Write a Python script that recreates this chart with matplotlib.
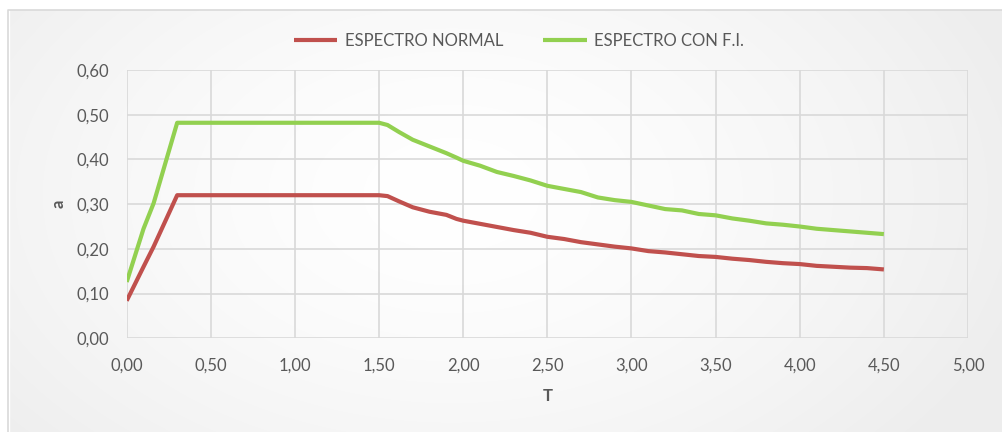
import numpy as np
import matplotlib
matplotlib.use("Agg")
import matplotlib.pyplot as plt
from matplotlib.patches import Rectangle
from matplotlib.ticker import FuncFormatter

# Period T (s) and spectral acceleration a for both spectra
periodo = [0.00, 0.10, 0.16, 0.30, 0.50, 1.00, 1.50, 1.55, 1.62, 1.70, 1.80, 1.90,
           1.96, 2.00, 2.10, 2.20, 2.30, 2.40, 2.50, 2.60, 2.70, 2.80, 2.90, 3.00,
           3.10, 3.20, 3.30, 3.40, 3.50, 3.60, 3.70, 3.80, 3.90, 4.00, 4.10, 4.20,
           4.30, 4.40, 4.50]
espectro_normal = [0.084, 0.160, 0.205, 0.320, 0.320, 0.320, 0.320, 0.318, 0.306, 0.293,
                   0.283, 0.276, 0.267, 0.263, 0.256, 0.249, 0.242, 0.236, 0.227, 0.222,
                   0.215, 0.210, 0.205, 0.201, 0.195, 0.192, 0.188, 0.184, 0.182, 0.178,
                   0.175, 0.171, 0.168, 0.166, 0.162, 0.160, 0.158, 0.157, 0.154]
espectro_fi = [0.126, 0.245, 0.302, 0.482, 0.482, 0.482, 0.482, 0.477, 0.461, 0.444,
               0.429, 0.414, 0.404, 0.397, 0.386, 0.372, 0.363, 0.353, 0.341, 0.334,
               0.327, 0.315, 0.309, 0.305, 0.297, 0.289, 0.286, 0.278, 0.275, 0.268,
               0.263, 0.257, 0.254, 0.250, 0.245, 0.242, 0.239, 0.236, 0.233]

series_labels = ["ESPECTRO NORMAL", "ESPECTRO CON F.I."]
x_ticks = np.arange(0, 5.01, 0.5)
y_ticks = np.arange(0, 0.61, 0.1)

W, H = 1003, 432
fig = plt.figure(figsize=(W / 100, H / 100), dpi=100, facecolor="white")

# soft radial background of the chart area
yy, xx = np.mgrid[0:H, 0:W]
r = np.sqrt(((xx - W * 0.45) / (W * 0.6)) ** 2 + ((yy - H * 0.45) / (H * 0.9)) ** 2)
shade = 1.0 - 0.07 * np.clip(r, 0, 1) ** 1.5
bg = np.dstack([shade, shade, shade])
bg_ax = fig.add_axes([0, 0, 1, 1], zorder=-2)
bg_ax.imshow(bg, extent=[0, 1, 0, 1], aspect="auto", origin="upper")
bg_ax.add_patch(Rectangle((-0.5, 0), 8.5 / W + 0.5, 1, color="white", zorder=2))
bg_ax.add_patch(Rectangle((0, 1 - 9 / H), 1, 9 / H + 0.1, color="white", zorder=2))
bg_ax.plot([8.5 / W, 8.5 / W, 1.0], [0, 1 - 9.5 / H, 1 - 9.5 / H],
           color="#d9d9d9", lw=1.2, zorder=3)
bg_ax.set_xlim(0, 1)
bg_ax.set_ylim(0, 1)
bg_ax.axis("off")

ax = fig.add_axes([126.7 / W, 1 - 338.3 / H, (968 - 126.7) / W, (338.3 - 70) / H])
ax.set_facecolor("none")

text_color = "#595959"
font = "Lato"

l1, = ax.plot(periodo, espectro_normal, color="#c0504d", lw=3.0,
              solid_capstyle="butt", solid_joinstyle="round", zorder=3)
l2, = ax.plot(periodo, espectro_fi, color="#92d050", lw=3.0,
              solid_capstyle="butt", solid_joinstyle="round", zorder=3)

ax.set_xlim(0, 5.0)
ax.set_ylim(0, 0.6)
ax.set_xticks(x_ticks)
ax.set_yticks(y_ticks)
fmt = FuncFormatter(lambda v, p: f"{v:.2f}".replace(".", ","))
ax.xaxis.set_major_formatter(fmt)
ax.yaxis.set_major_formatter(fmt)
ax.grid(True, color="#d9d9d9", lw=1.2, zorder=0)
for s in ax.spines.values():
    s.set_visible(False)
ax.tick_params(length=0, labelsize=12, labelcolor=text_color)
ax.tick_params(axis="y", pad=13)
ax.tick_params(axis="x", pad=14)
for lab in ax.get_xticklabels() + ax.get_yticklabels():
    lab.set_fontfamily(font)

ax.set_xlabel("T", fontsize=12, color=text_color, fontweight="bold", family=font, labelpad=10)
ax.set_ylabel("a", fontsize=12, color=text_color, fontweight="bold", family=font, labelpad=7)

fig.legend([l1, l2], series_labels, loc="center", bbox_to_anchor=(519 / W, 1 - 41 / H),
           ncol=2, frameon=False, handlelength=2.6, columnspacing=2.4, handletextpad=0.45,
           prop={"family": font, "size": 12}, labelcolor=text_color)

fig.savefig("out.png", dpi=100)
